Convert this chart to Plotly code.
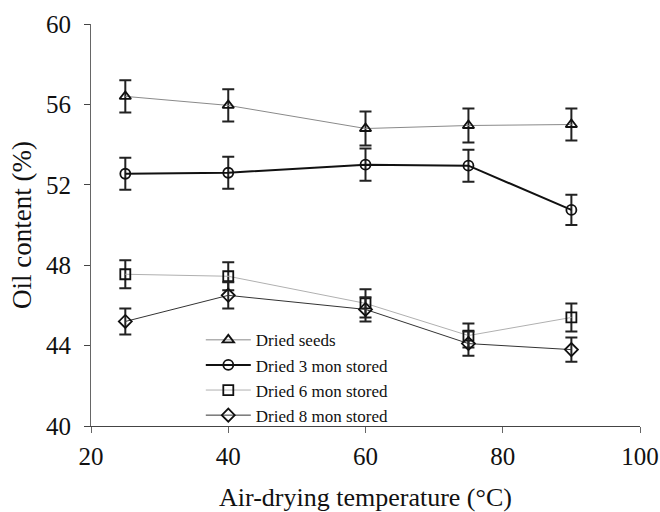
import plotly.graph_objects as go

temps = [25, 40, 60, 75, 90]
series_names = ["Dried seeds", "Dried 3 mon stored", "Dried 6 mon stored", "Dried 8 mon stored"]
dried_seeds = [56.4, 55.95, 54.8, 54.95, 55.0]
dried_3mon = [52.55, 52.6, 53.0, 52.95, 50.75]
dried_6mon = [47.55, 47.45, 46.1, 44.5, 45.4]
dried_8mon = [45.2, 46.5, 45.8, 44.1, 43.8]
err_seeds = [0.8, 0.8, 0.85, 0.85, 0.8]
err_3mon = [0.8, 0.8, 0.8, 0.8, 0.75]
err_6mon = [0.7, 0.7, 0.7, 0.6, 0.7]
err_8mon = [0.65, 0.65, 0.6, 0.6, 0.6]
x_ticks = [20, 40, 60, 80, 100]
y_ticks = [40, 44, 48, 52, 56, 60]

values = [dried_seeds, dried_3mon, dried_6mon, dried_8mon]
errors = [err_seeds, err_3mon, err_6mon, err_8mon]
symbols = ["triangle-up-open", "circle-open", "square-open", "diamond-open"]
line_colors = ["#8a8a8a", "#111111", "#b0b0b0", "#333333"]
line_widths = [1, 2, 1, 1]

FONT = "Liberation Serif"

fig = go.Figure()
for name, v, e, sym, lc, lw in zip(series_names, values, errors, symbols, line_colors, line_widths):
    fig.add_trace(go.Scatter(
        x=temps, y=v, name=name, mode="lines+markers",
        line=dict(color=lc, width=lw),
        marker=dict(symbol=sym, size=10, color="#111111", line=dict(width=1.8, color="#111111")),
        error_y=dict(type="data", array=e, visible=True, color="#222222", thickness=2, width=6),
    ))

fig.update_layout(
    width=660, height=512,
    margin=dict(l=91, r=20, t=24, b=86),
    paper_bgcolor="white", plot_bgcolor="white",
    font=dict(family=FONT, color="#111111"),
    showlegend=True,
    legend=dict(
        x=0.2, y=0.258, xanchor="left", yanchor="top",
        bgcolor="rgba(0,0,0,0)", font=dict(family=FONT, size=17, color="#111111"),
        tracegroupgap=0, itemwidth=45,
    ),
    xaxis=dict(
        range=[20, 100], tickvals=x_ticks, showgrid=False, zeroline=False,
        showline=True, linecolor="#444444", linewidth=1, automargin=False,
        ticks="outside", ticklen=6, tickcolor="#666666",
        ticklabelstandoff=2,
        tickfont=dict(family=FONT, size=25, color="#111111"),
        title=dict(text="Air-drying temperature (°C)", font=dict(family=FONT, size=26, color="#111111"), standoff=20),
    ),
    yaxis=dict(
        range=[40, 60], tickvals=y_ticks, showgrid=False, zeroline=False,
        showline=True, linecolor="#666666", linewidth=1, automargin=False,
        ticks="outside", ticklen=6, tickcolor="#444444",
        ticklabelstandoff=8,
        tickfont=dict(family=FONT, size=25, color="#111111"),
        title=dict(text="Oil content (%)", font=dict(family=FONT, size=27, color="#111111"), standoff=6),
    ),
)

fig.write_html("out.html")
